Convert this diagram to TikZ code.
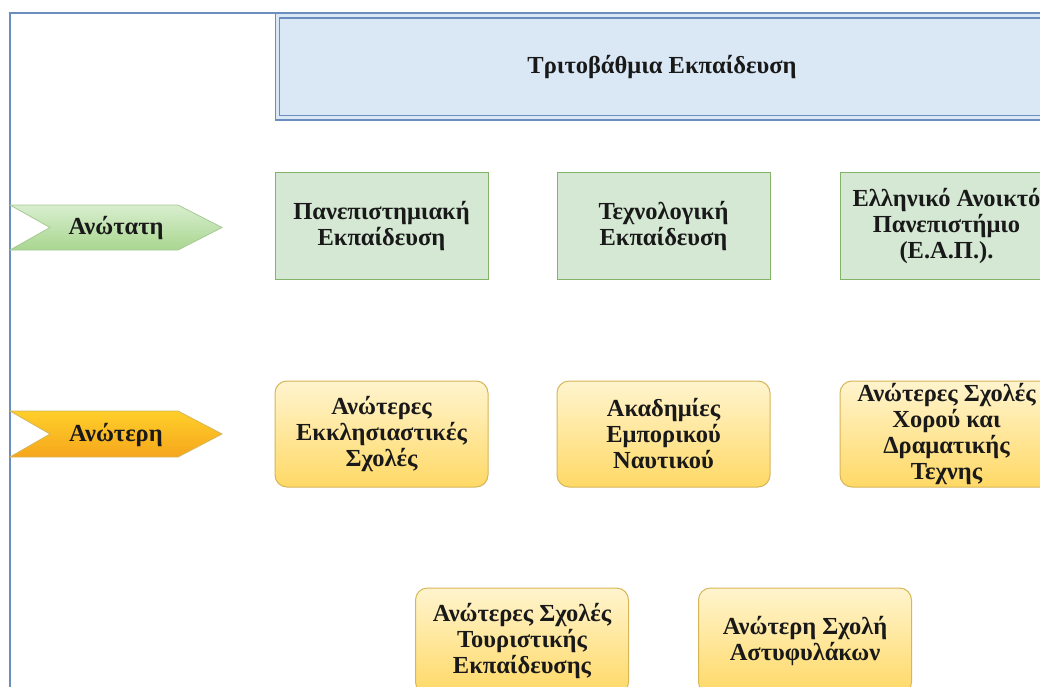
\documentclass[tikz,border=0pt]{standalone}
\usepackage{fontspec}
\setmainfont{Liberation Serif}
\definecolor{frameblue}{HTML}{6C8EBF}
\definecolor{titlefill}{HTML}{DAE8F5}
\definecolor{gfill}{HTML}{D5E8D4}
\definecolor{gline}{HTML}{82B366}
\definecolor{otop}{HTML}{FFF4CE}
\definecolor{obot}{HTML}{FFD966}
\definecolor{oline}{HTML}{D6B656}
\definecolor{gatop}{HTML}{D8EECF}
\definecolor{gabot}{HTML}{A9D68F}
\definecolor{oatop}{HTML}{FFCF2A}
\definecolor{oabot}{HTML}{F6A61C}
\tikzset{
  lbl/.style={font=\bfseries\fontsize{24.5}{26}\selectfont, align=center, text=black!90},
  titlebox/.style={lbl, draw=frameblue, line width=1.1pt, double=titlefill, double distance=3pt, fill=titlefill, minimum width=769pt, minimum height=102pt, inner sep=0pt},
  greenbox/.style={lbl, draw=gline, line width=1pt, fill=gfill, minimum width=213pt, minimum height=106pt, inner sep=1pt},
  orangebox/.style={lbl, draw=oline, line width=1pt, rounded corners=12pt, top color=otop, bottom color=obot, minimum width=213pt, minimum height=106pt, inner sep=1pt},
  greenarrow/.style={draw=gline!70, line width=0.8pt, top color=gatop, bottom color=gabot},
  orangearrow/.style={draw=oline, line width=0.8pt, top color=oatop, bottom color=oabot},
}
\begin{document}
\begin{tikzpicture}[x=1pt,y=-1pt]
\useasboundingbox (0,0) rectangle (1040,687);
\clip (0,0) rectangle (1040,687);
\fill[white] (0,0) rectangle (1040,687);
\draw[frameblue, line width=1.5pt] (10,13) rectangle (1080,720);

\node[titlebox] (title) at (662,67) {Τριτοβάθμια Εκπαίδευση};

\path[greenarrow] (10,205) -- (178,205) -- (222,227.5) -- (178,250) -- (10,250) -- (50,227.5) -- cycle;
\node[lbl] (anotati) at (116,228) {Ανώτατη};
\path[orangearrow] (10,411) -- (178,411) -- (222,434) -- (178,457) -- (10,457) -- (50,434) -- cycle;
\node[lbl] (anoteri) at (116,435) {Ανώτερη};

\node[greenbox] (pan) at (381.5,226) {Πανεπιστημιακή\\Εκπαίδευση};
\node[greenbox] (tex) at (663.5,226) {Τεχνολογική\\Εκπαίδευση};
\node[greenbox] (eap) at (946.5,226) {Ελληνικό Ανοικτό\\Πανεπιστήμιο\\(Ε.Α.Π.).};

\node[orangebox] (ekk) at (381.5,434) {Ανώτερες\\Εκκλησιαστικές\\Σχολές};
\node[orangebox] (nav) at (663.5,434) {Ακαδημίες\\Εμπορικού\\Ναυτικού};
\node[orangebox] (xor) at (946.5,434) {Ανώτερες Σχολές\\Χορού και\\Δραματικής\\Τεχνης};

\node[orangebox] (tour) at (522,641) {Ανώτερες Σχολές\\Τουριστικής\\Εκπαίδευσης};
\node[orangebox] (ast) at (805,641) {Ανώτερη Σχολή\\Αστυφυλάκων};
\end{tikzpicture}
\end{document}
